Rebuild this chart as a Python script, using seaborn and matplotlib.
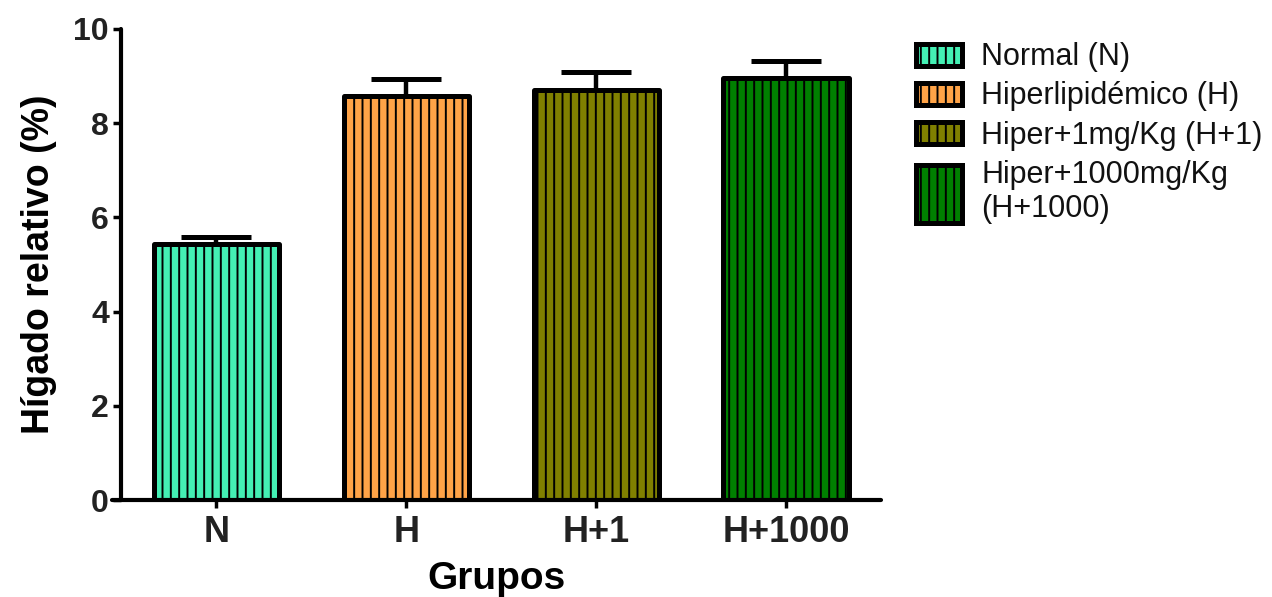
import matplotlib
matplotlib.use("Agg")
import matplotlib.pyplot as plt
import seaborn as sns
import numpy as np
from matplotlib.patches import Rectangle
from matplotlib.legend_handler import HandlerPatch

groups = ["N", "H", "H+1", "H+1000"]
means = [5.44, 8.58, 8.70, 8.97]
errors = [0.15, 0.36, 0.39, 0.35]
legend_labels = ["Normal (N)", "Hiperlipidémico (H)", "Hiper+1mg/Kg (H+1)",
                 "Hiper+1000mg/Kg\n(H+1000)"]
colors = ["#44F0B4", "#FFA347", "#808000", "#008000"]
yticks = [0, 2, 4, 6, 8, 10]

sns.set_style("white")
plt.rcParams['font.family'] = ['Liberation Sans', 'DejaVu Sans']
plt.rcParams['hatch.linewidth'] = 1.4
plt.rcParams['hatch.color'] = 'black'

fig = plt.figure(figsize=(12.72, 5.97), dpi=100)
ax = fig.add_axes([112/1272, 97/597, 769/1272, 471/597])

sns.barplot(x=groups, y=means, hue=groups, palette=colors, width=0.66,
            saturation=1, edgecolor="black", linewidth=3.6, hatch="||",
            legend=False, errorbar=None, ax=ax, order=groups, hue_order=groups)
for p in ax.patches:
    p.set_joinstyle("round")

ax.errorbar(np.arange(len(groups)), means, yerr=[np.zeros(len(errors)), errors],
            fmt="none", ecolor="black", elinewidth=3.2, capsize=25, capthick=3.6,
            zorder=1)

ax.set_xlim(-0.55, 3.5)
ax.set_ylim(0, 10)
ax.set_yticks(yticks)
ax.set_yticklabels([str(t) for t in yticks])
for s in ["top", "right"]:
    ax.spines[s].set_visible(False)
ax.spines["left"].set_position(("data", -0.5))
for s in ["left", "bottom"]:
    ax.spines[s].set_linewidth(3)
    ax.spines[s].set_capstyle("round")
    ax.spines[s].set_color("black")
ax.tick_params(axis="y", direction="out", length=6, width=2.5, labelsize=23,
               labelcolor="#222222", left=True, pad=3, color="black")
ax.tick_params(axis="x", direction="out", length=6, width=2.5, labelsize=26,
               labelcolor="#222222", bottom=True, pad=5, color="black")
for lab in ax.get_xticklabels() + ax.get_yticklabels():
    lab.set_fontweight("bold")

ax.set_xlabel("Grupos", fontsize=28, fontweight="bold", labelpad=8, color="black")
ax.set_ylabel("Hígado relativo (%)", fontsize=27, fontweight="bold", labelpad=12,
              color="black")


def make_patch(legend, orig_handle, xdescent, ydescent, width, height, fontsize):
    return Rectangle((-xdescent, -ydescent), width, height)


def make_tall_patch(legend, orig_handle, xdescent, ydescent, width, height, fontsize):
    return Rectangle((-xdescent, -ydescent - 0.85 * height), width, height * 2.6)


handles = ax.patches[:4]
hmap = {h: HandlerPatch(patch_func=make_patch) for h in handles[:3]}
hmap[handles[3]] = HandlerPatch(patch_func=make_tall_patch)
leg = fig.legend(handles, legend_labels, loc="upper left",
                 bbox_to_anchor=(901/1272, 1 - 27/597), frameon=False,
                 fontsize=22, handlelength=1.5, handleheight=0.74,
                 handletextpad=0.62, labelspacing=0.3, borderpad=0,
                 handler_map=hmap)
for t in leg.get_texts():
    t.set_color("#111111")

fig.savefig("out.png", dpi=100)
